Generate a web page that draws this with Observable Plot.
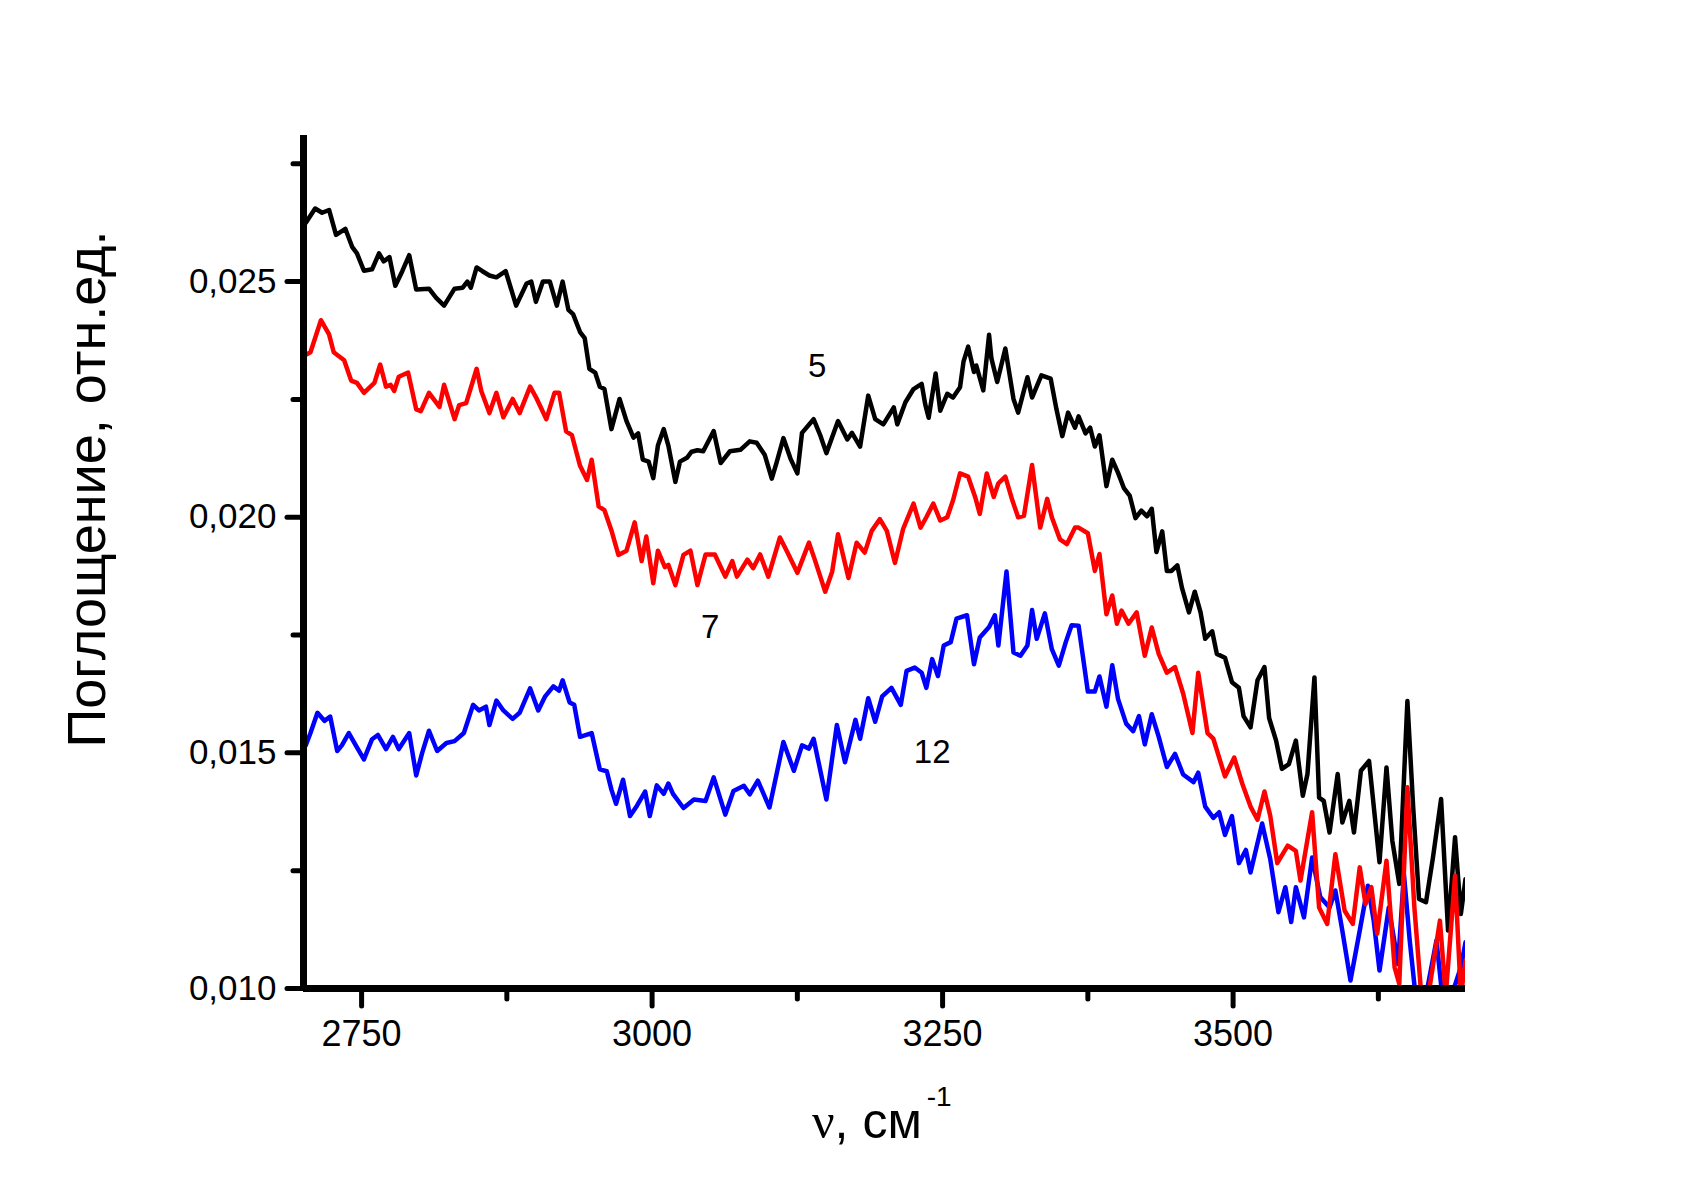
<!DOCTYPE html>
<html>
<head>
<meta charset="utf-8">
<script src="https://cdn.jsdelivr.net/npm/d3@7"></script>
<script src="https://cdn.jsdelivr.net/npm/@observablehq/plot@0.6"></script>
<style>
  html, body { margin: 0; padding: 0; background: #fff; }
  #chart svg { display: block; }
</style>
</head>
<body>
<div id="chart"></div>
<script>
// ---- axis ticks ----
const nuTicks = [2750, 3000, 3250, 3500];
const nuMinorTicks = [2875, 3125, 3375, 3625];
const absTicks = [0.010, 0.015, 0.020, 0.025];
const absMinorTicks = [0.0125, 0.0175, 0.0225, 0.0275];

const yTitle = "Поглощение, отн.ед.";

// ---- curve 5 (black) ----
const nu5 = [2702,2710,2716,2722,2728,2736,2742,2746,2752,2759,2765,2769,2774,2779,2785,2791,2797,2808,2814,2821,2830,2837,2841,2844,2849,2854,2860,2866,2874,2883,2892,2896,2900,2906,2912,2918,2923,2928,2932,2938,2942,2946,2951,2955,2959,2965,2972,2978,2984,2988,2992,2997,3001,3005,3010,3014,3020,3024,3030,3034,3039,
3044,3053,3059,3067,3076,3084,3090,3097,3103,3107,3113,3119,3125,3129,3139,3145,3150,3160,3168,3172,3179,3186,3192,3199,3208,3211,3218,3225,3232,3235,3238,3244,3248,3254,3259,3265,3268,3272,3277,3279,3285,3290,3292,3297,3304,3311,3315,3323,3327,3335,3343,3348,3353,3358,3364,
3367,3373,3377,3381,3385,3391,3396,3401,3406,3411,3416,3421,3426,3430,3434,3439,3443,3447,3452,3456,3462,3467,3472,3476,3482,3486,3493,3499,3505,3509,3515,3521,3527,3531,3537,3542,
3548,3554,3560,3564,3570,3574,3578,3583,3590,3594,3600,3604,3610,3617,3626,3632,3637,3643,3650,3655,3660,3666,3672,3679,3685,3691,3696,3700];
const abs5 = [0.02625,0.02655,0.02646,0.02652,0.02599,0.02612,0.02573,0.02560,0.02523,0.02526,0.02560,0.02543,0.02552,0.02491,0.02522,0.02556,0.02483,0.02485,0.02466,0.02449,0.02485,0.02487,0.02500,0.02487,0.02530,0.02522,0.02513,0.02509,0.02522,0.02449,0.02496,0.02500,0.02457,0.02500,0.02500,0.02449,0.02500,0.02440,0.02431,0.02393,0.02380,0.02315,0.02307,0.02277,0.02272,0.02187,0.02251,0.02204,0.02169,0.02178,0.02122,0.02118,0.02083,0.02152,0.02187,0.02152,0.02075,0.02118,0.02126,0.02139,0.02142,
0.02140,0.02183,0.02115,0.02140,0.02143,0.02161,0.02158,0.02132,0.02082,0.02115,0.02168,0.02125,0.02093,0.02179,0.02208,0.02172,0.02136,0.02204,0.02165,0.02179,0.02150,0.02258,0.02208,0.02197,0.02233,0.02197,0.02244,0.02272,0.02283,0.02240,0.02211,0.02305,0.02226,0.02262,0.02254,0.02276,0.02330,0.02362,0.02308,0.02322,0.02269,0.02387,0.02337,0.02287,0.02358,0.02251,0.02222,0.02297,0.02254,0.02301,0.02294,0.02229,0.02172,0.02222,0.02190,
0.02214,0.02178,0.02190,0.02150,0.02174,0.02066,0.02122,0.02094,0.02062,0.02046,0.01998,0.02014,0.02002,0.02018,0.01926,0.01970,0.01886,0.01886,0.01898,0.01850,0.01798,0.01842,0.01798,0.01742,0.01758,0.01710,0.01702,0.01650,0.01638,0.01578,0.01554,0.01654,0.01682,0.01574,0.01526,0.01466,
0.01476,0.01526,0.01409,0.01455,0.01660,0.01405,0.01398,0.01331,0.01455,0.01352,0.01398,0.01331,0.01462,0.01483,0.01268,0.01469,0.01314,0.01222,0.01610,0.01384,0.01190,0.01183,0.01278,0.01402,0.01123,0.01321,0.01158,0.01232];

// ---- curve 7 (red) ----
const nu7 = [2702,2706,2715,2722,2726,2735,2741,2746,2752,2761,2766,2771,2775,2778,2782,2790,2797,2801,2808,2817,2821,2830,2834,2840,2849,2853,2860,2866,2872,2880,2886,2895,2900,2909,2916,2920,2926,2931,2938,2944,2948,2954,2959,2965,2971,2978,2985,2991,2995,3001,3005,3011,3014,3020,3027,3033,3039,
3046,3054,3063,3069,3073,3082,3087,3093,3100,3110,3116,3125,3135,3140,3149,3155,3160,3169,3176,3183,3189,3196,3202,3209,3216,3225,3231,3236,3242,3248,3254,3259,3265,3272,3278,3282,3288,3294,3298,3304,3310,3315,3320,3327,3334,3340,3344,3351,3357,3364,
3367,3375,3381,3385,3391,3396,3400,3404,3410,3417,3424,3430,3436,3443,3450,3457,3465,3470,3478,3483,3493,3501,3508,3515,3521,3527,3532,3538,
3547,3554,3558,3568,3574,3581,3588,3596,3603,3609,3614,3619,3624,3632,3639,3643,3650,3656,3662,3668,3678,3683,3691,3696,3700];
const abs7 = [0.02345,0.02350,0.02418,0.02388,0.02350,0.02333,0.02290,0.02285,0.02264,0.02285,0.02324,0.02277,0.02281,0.02268,0.02298,0.02307,0.02229,0.02225,0.02264,0.02234,0.02281,0.02208,0.02238,0.02242,0.02315,0.02268,0.02221,0.02264,0.02212,0.02251,0.02221,0.02277,0.02255,0.02208,0.02264,0.02264,0.02182,0.02174,0.02109,0.02079,0.02122,0.02023,0.02015,0.01972,0.01920,0.01929,0.01989,0.01907,0.01959,0.01860,0.01929,0.01894,0.01899,0.01856,0.01920,0.01929,0.01856,
0.01921,0.01921,0.01874,0.01907,0.01874,0.01910,0.01892,0.01921,0.01874,0.01957,0.01928,0.01882,0.01946,0.01910,0.01842,0.01885,0.01964,0.01871,0.01946,0.01925,0.01971,0.01996,0.01971,0.01903,0.01975,0.02029,0.01978,0.02000,0.02029,0.01993,0.02000,0.02036,0.02093,0.02086,0.02043,0.02007,0.02093,0.02043,0.02072,0.02086,0.02036,0.02000,0.02003,0.02111,0.01978,0.02039,0.02000,0.01953,0.01943,0.01978,
0.01978,0.01966,0.01886,0.01922,0.01794,0.01834,0.01774,0.01802,0.01774,0.01798,0.01706,0.01766,0.01710,0.01670,0.01682,0.01626,0.01542,0.01670,0.01542,0.01530,0.01450,0.01490,0.01434,0.01386,0.01358,0.01418,0.01366,0.01266,
0.01303,0.01292,0.01229,0.01374,0.01172,0.01137,0.01285,0.01165,0.01137,0.01257,0.01179,0.01215,0.01116,0.01271,0.01045,0.01010,0.01427,0.01172,0.00985,0.00985,0.01144,0.00985,0.01239,0.00985,0.01059];

// ---- curve 12 (blue) ----
const nu12 = [2702,2706,2712,2718,2723,2729,2733,2739,2745,2752,2759,2764,2771,2777,2782,2791,2797,2802,2808,2815,2823,2830,2838,2846,2851,2857,2860,2866,2872,2880,2886,2895,2902,2908,2915,2920,2923,2929,2933,2938,2948,2955,2961,2965,2969,2975,2981,2987,2994,2998,3004,3010,3014,3018,3027,3036,
3046,3053,3063,3070,3079,3084,3091,3101,3113,3122,3129,3135,3139,3150,3159,3166,3175,3179,3186,3192,3198,3206,3214,3219,3226,3232,3236,3241,3246,3251,3257,3262,3271,3277,3282,3290,3295,3298,3305,3311,3317,3323,3327,3331,3338,3344,3350,3356,3361,
3367,3375,3381,3385,3391,3396,3401,3408,3414,3419,3424,3430,3436,3443,3450,3457,3466,3470,3476,3483,3488,3493,3499,3505,3511,3515,3525,3532,3539,
3545,3550,3554,3561,3568,3575,3583,3588,3594,3601,3609,3616,3621,3626,3634,3642,3647,3652,3657,3666,3675,3680,3688,3696,3700];
const abs12 = [0.01516,0.01542,0.01585,0.01568,0.01577,0.01504,0.01516,0.01542,0.01516,0.01486,0.01529,0.01538,0.01508,0.01534,0.01508,0.01542,0.01452,0.01499,0.01547,0.01504,0.01521,0.01525,0.01542,0.01602,0.01590,0.01598,0.01559,0.01611,0.01590,0.01572,0.01585,0.01637,0.01590,0.01620,0.01641,0.01632,0.01654,0.01607,0.01602,0.01534,0.01542,0.01465,0.01461,0.01422,0.01392,0.01443,0.01366,0.01388,0.01418,0.01366,0.01431,0.01413,0.01435,0.01413,0.01383,0.01401,
0.01398,0.01448,0.01369,0.01419,0.01430,0.01412,0.01441,0.01384,0.01523,0.01462,0.01516,0.01509,0.01530,0.01401,0.01559,0.01480,0.01570,0.01530,0.01616,0.01566,0.01620,0.01638,0.01602,0.01674,0.01681,0.01670,0.01638,0.01699,0.01663,0.01728,0.01735,0.01785,0.01792,0.01688,0.01745,0.01767,0.01792,0.01728,0.01885,0.01713,0.01706,0.01728,0.01803,0.01742,0.01796,0.01720,0.01685,0.01735,0.01771,
0.01770,0.01630,0.01630,0.01662,0.01598,0.01686,0.01614,0.01562,0.01546,0.01578,0.01518,0.01582,0.01534,0.01470,0.01498,0.01454,0.01438,0.01458,0.01386,0.01362,0.01374,0.01326,0.01366,0.01266,0.01294,0.01246,0.01350,0.01274,0.01162,
0.01215,0.01141,0.01215,0.01151,0.01278,0.01194,0.01172,0.01208,0.01123,0.01017,0.01123,0.01218,0.01144,0.01038,0.01172,0.01052,0.01243,0.01102,0.00985,0.00985,0.01102,0.00985,0.00985,0.01045,0.01098];

// ---- curve labels ----
const curveNames = ["5", "7", "12"];
const curveLabelNu = [3142, 3050, 3241];
const curveLabelAbs = [0.02320, 0.01767, 0.01500];

const toRows = (nu, a) => nu.map((v, i) => ({nu: v, a: a[i]}));
const labels = curveNames.map((t, i) => ({text: t, nu: curveLabelNu[i], a: curveLabelAbs[i]}));

const fmtAbs = d => d.toFixed(3).replace(".", ",");
const lineStyle = {strokeWidth: 4.5, strokeLinejoin: "round", strokeLinecap: "round", clip: true};

const chart = Plot.plot({
  width: 1699,
  height: 1185,
  marginLeft: 303,
  marginRight: 234,
  marginTop: 135,
  marginBottom: 197,
  style: {fontFamily: "'Liberation Sans', Arial, sans-serif", fontSize: "35px", background: "#fff", color: "#000"},
  x: {domain: [2700, 3700], label: null},
  y: {domain: [0.010, 0.0281], label: null},
  marks: [
    Plot.line(toRows(nu5, abs5), {x: "nu", y: "a", stroke: "#000000", ...lineStyle}),
    Plot.line(toRows(nu12, abs12), {x: "nu", y: "a", stroke: "#0000ff", ...lineStyle}),
    Plot.line(toRows(nu7, abs7), {x: "nu", y: "a", stroke: "#ff0000", ...lineStyle}),
    Plot.text(labels, {x: "nu", y: "a", text: "text", fontSize: 33, fill: "#000"}),
    Plot.axisX({ticks: nuTicks, tickSize: 18, tickPadding: 14, strokeWidth: 5, strokeLinecap: "round", tickFormat: d => String(d), fontSize: 36, label: null}),
    Plot.axisX({ticks: nuMinorTicks, tickSize: 11, strokeWidth: 5, strokeLinecap: "round", tickFormat: () => "", label: null}),
    Plot.axisY({ticks: absTicks, tickSize: 16, tickPadding: 11, strokeWidth: 5, strokeLinecap: "round", tickFormat: fmtAbs, fontSize: 35, label: null}),
    Plot.axisY({ticks: absMinorTicks, tickSize: 10, strokeWidth: 5, strokeLinecap: "round", tickFormat: () => "", label: null}),
    Plot.ruleY([0.010], {strokeWidth: 7}),
    Plot.ruleX([2700], {strokeWidth: 7})
  ]
});

document.getElementById("chart").appendChild(chart);

// axis titles
const svg = d3.select(chart);
svg.append("text")
  .attr("transform", "translate(105,489) rotate(-90)")
  .attr("text-anchor", "middle")
  .attr("font-family", "'Liberation Sans', Arial, sans-serif")
  .attr("font-size", 54)
  .attr("fill", "#000")
  .text(yTitle);

const xt = svg.append("text")
  .attr("x", 812)
  .attr("y", 1138)
  .attr("text-anchor", "start")
  .attr("fill", "#000");
xt.append("tspan").attr("font-family", "'Liberation Serif', 'DejaVu Serif', serif").attr("font-size", 50).text("ν");
xt.append("tspan").attr("font-family", "'Liberation Sans', Arial, sans-serif").attr("font-size", 50).text(", см");
xt.append("tspan").attr("font-family", "'Liberation Sans', Arial, sans-serif").attr("font-size", 28).attr("dx", 5).attr("dy", -32).text("-1");
</script>
</body>
</html>
